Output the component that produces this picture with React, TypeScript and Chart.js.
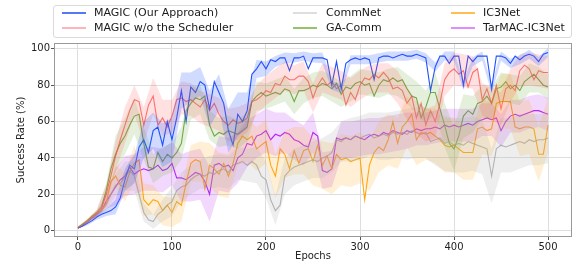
import { useEffect, useRef } from "react";
import { Chart, registerables } from "chart.js";

Chart.register(...registerables);

// Mean curves sampled every 5 epochs (0..500)
const EPOCH_STEP = 5;
// Std-band half-widths sampled every 10 epochs (0..500)
const BAND_STEP = 10;

const magic = [
  1.5, 2.5, 4, 5.5, 7.5, 9, 10, 11, 13, 18, 28, 36, 34, 46, 50, 43, 55, 57, 47, 60,
  50, 62, 77, 60, 79, 76, 82, 80, 67, 82, 76, 70, 55, 47, 64, 60, 66, 86, 89, 93,
  89, 94, 93, 95, 95, 88, 95, 95, 96, 89, 95, 95, 95, 94, 80, 93, 78, 92, 94, 95,
  94, 95, 94, 83, 95, 96, 96, 95, 96, 97, 96, 96, 97, 96, 95, 77, 90, 96, 96, 92,
  96, 96, 80, 96, 93, 96, 96, 96, 78, 96, 96, 95, 92, 96, 94, 96, 97, 96, 93, 97, 98,
];
const magicNoSched = [
  1.5, 3, 5, 7.5, 9.5, 12, 20, 30, 41, 50, 58, 66, 72, 71, 58, 69, 74, 58, 62, 57,
  63, 72, 73, 71, 72, 70, 68, 72, 66, 70, 64, 60, 58, 61, 59, 60, 62, 71, 72, 74,
  77, 76, 81, 80, 85, 83, 83, 85, 85, 82, 73, 80, 84, 80, 82, 78, 80, 69, 76, 72,
  80, 84, 83, 86, 84, 87, 84, 78, 79, 77, 70, 74, 62, 70, 58, 66, 60, 70, 83, 87,
  89, 86, 88, 79, 87, 89, 72, 78, 70, 80, 67, 78, 80, 77, 88, 91, 89, 83, 88, 87, 87,
];
const commNet = [
  1.5, 3, 5, 7, 9, 11, 14, 20, 25, 26, 30, 33, 30, 20, 10, 6, 5, 9, 11, 14,
  16, 22, 24, 25, 28, 30, 31, 30, 32, 31, 33, 34, 32, 36, 37, 38, 36, 38, 36, 30,
  28, 17, 11, 14, 30, 33, 35, 36, 37, 38, 39, 38, 40, 41, 43, 50, 49, 51, 50, 52,
  51, 52, 53, 51, 52, 53, 52, 54, 53, 54, 53, 55, 54, 53, 54, 49, 50, 51, 48, 49,
  47, 48, 47, 49, 48, 47, 46, 45, 30, 45, 47, 46, 47, 48, 49, 48, 50, 49, 50, 50, 51,
];
const gaComm = [
  1.5, 3.5, 5.5, 8, 10, 13, 22, 34, 42, 48, 52, 58, 63, 64, 48, 35, 34, 43, 38, 42,
  40, 43, 48, 66, 70, 73, 72, 74, 58, 52, 54, 53, 55, 54, 53, 55, 57, 71, 74, 76,
  74, 75, 76, 75, 78, 77, 71, 77, 77, 78, 80, 79, 81, 80, 78, 81, 75, 79, 78, 81,
  82, 80, 81, 74, 80, 83, 82, 84, 82, 83, 78, 74, 73, 62, 68, 76, 76, 67, 58, 48,
  45, 52, 63, 66, 64, 70, 71, 74, 70, 78, 79, 82, 78, 80, 77, 82, 84, 86, 83, 80, 79,
];
const ic3Net = [
  2, 3.5, 5.5, 7.5, 9.5, 11, 15, 27, 30, 25, 24, 32, 37, 39, 17, 14, 17, 16, 11, 14,
  10, 16, 14, 26, 37, 39, 38, 23, 36, 34, 31, 37, 30, 37, 48, 52, 50, 52, 45, 47,
  49, 36, 30, 45, 42, 34, 44, 37, 44, 45, 38, 47, 36, 41, 34, 42, 39, 40, 38, 39,
  40, 17, 36, 43, 46, 44, 50, 60, 48, 57, 60, 64, 50, 54, 53, 54, 52, 50, 47, 46,
  47, 45, 43, 43, 43, 56, 57, 55, 56, 70, 71, 71, 71, 57, 56, 57, 57, 56, 42, 42, 58,
];
const tarmac = [
  1.5, 3, 5, 7, 9, 11, 16, 20, 24, 28, 30, 35, 31, 33, 34, 33, 34, 36, 33, 34,
  37, 29, 29, 28, 30, 32, 31, 27, 20, 36, 37, 35, 36, 33, 40, 42, 48, 47, 52, 53,
  55, 50, 53, 52, 54, 53, 50, 49, 47, 46, 54, 52, 33, 32, 34, 51, 50, 51, 50, 52,
  51, 50, 52, 53, 52, 54, 53, 55, 54, 53, 55, 54, 56, 55, 56, 56, 57, 56, 58, 57,
  58, 57, 58, 59, 58, 60, 61, 62, 61, 62, 55, 60, 63, 64, 63, 64, 65, 66, 66, 65, 64,
];

const magicSpread = [
  0.5, 1, 1.5, 2, 4, 6, 8, 10, 10, 12, 12, 10, 8, 8, 10, 10, 12, 12, 10, 5,
  4, 3, 3, 2.5, 2.5, 2.5, 3, 2.5, 2.5, 2.5, 2.5, 2.5, 2.5, 2.5, 2.5, 2.5, 2.5, 2.5, 2.5, 2.5,
  2.5, 2.5, 2.5, 2.5, 2.5, 2.5, 2.5, 2.5, 2.5, 2.5, 2.5,
];
const magicNoSchedSpread = [
  0.5, 1, 2, 5, 8, 10, 8, 10, 10, 10, 9, 9, 9, 9, 9, 9, 9, 9, 8, 8,
  8, 8, 8, 8, 8, 8, 8, 8, 8, 8, 8, 8, 8, 8, 9, 9, 9, 9, 9, 9,
  9, 9, 9, 9, 9, 9, 9, 9, 9, 9, 9,
];
const commNetSpread = [
  0.5, 1, 1.5, 3, 6, 8, 8, 5, 4, 6, 8, 8, 8, 8, 9, 9, 9, 9, 9, 10,
  10, 8, 10, 10, 10, 10, 11, 11, 11, 12, 12, 12, 13, 13, 13, 14, 14, 14, 14, 15,
  15, 15, 15, 15, 15, 15, 15, 15, 14, 14, 14,
];
const gaCommSpread = [
  0.5, 1, 1.5, 4, 10, 10, 10, 9, 8, 8, 8, 9, 9, 8, 8, 8, 8, 8, 8, 8,
  7, 7, 7, 7, 7, 7, 7, 7, 7, 7, 7, 7, 7, 7, 8, 8, 9, 9, 11, 12,
  12, 12, 10, 9, 9, 8, 8, 8, 8, 7, 7,
];
const ic3NetSpread = [
  0.5, 1, 1.5, 3, 6, 8, 10, 9, 8, 8, 8, 9, 10, 11, 12, 12, 12, 12, 12, 12,
  12, 12, 13, 13, 13, 13, 13, 14, 14, 14, 14, 14, 14, 14, 14, 14, 14, 14, 15, 15,
  15, 15, 15, 15, 15, 15, 15, 15, 15, 15, 15,
];
const tarmacSpread = [
  0.5, 1, 1.5, 4, 10, 11, 11, 12, 12, 12, 12, 13, 14, 14, 15, 15, 15, 14, 13, 12,
  12, 12, 11, 11, 11, 11, 10, 10, 10, 10, 10, 10, 10, 10, 10, 10, 9, 9, 9, 9,
  9, 9, 9, 9, 9, 9, 9, 9, 9, 9, 9,
];

const labels = [
  "MAGIC (Our Approach)",
  "MAGIC w/o the Scheduler",
  "CommNet",
  "GA-Comm",
  "IC3Net",
  "TarMAC-IC3Net",
];
const xTicks = [0, 100, 200, 300, 400, 500];
const yTicks = [0, 20, 40, 60, 80, 100];

const series = [
  { label: labels[0], mean: magic, spread: magicSpread, line: "rgba(20,70,255,0.95)", fill: "rgba(40,90,255,0.22)", legend: "rgb(85,120,245)" },
  { label: labels[1], mean: magicNoSched, spread: magicNoSchedSpread, line: "rgba(255,70,70,0.75)", fill: "rgba(255,90,90,0.18)", legend: "rgb(255,180,188)" },
  { label: labels[2], mean: commNet, spread: commNetSpread, line: "rgba(150,150,150,0.7)", fill: "rgba(170,170,170,0.2)", legend: "rgb(222,222,222)" },
  { label: labels[3], mean: gaComm, spread: gaCommSpread, line: "rgba(90,150,40,0.85)", fill: "rgba(110,170,60,0.18)", legend: "rgb(150,195,105)" },
  { label: labels[4], mean: ic3Net, spread: ic3NetSpread, line: "rgba(255,160,0,0.95)", fill: "rgba(255,175,40,0.2)", legend: "rgb(255,190,80)" },
  { label: labels[5], mean: tarmac, spread: tarmacSpread, line: "rgba(175,20,245,0.95)", fill: "rgba(185,60,240,0.2)", legend: "rgb(222,140,255)" },
];

const FONT = "'DejaVu Sans', sans-serif";

const framePlugin = {
  id: "frame",
  afterDatasetsDraw(chart: any) {
    const { ctx, chartArea } = chart;
    ctx.save();
    ctx.strokeStyle = "#999999";
    ctx.lineWidth = 1;
    ctx.strokeRect(
      Math.round(chartArea.left) + 0.5,
      Math.round(chartArea.top) + 0.5,
      Math.round(chartArea.right - chartArea.left) - 1,
      Math.round(chartArea.bottom - chartArea.top) - 1
    );
    ctx.restore();
  },
};

export default function App() {
  const ref = useRef<HTMLCanvasElement | null>(null);

  useEffect(() => {
    if (!ref.current) return;
    const datasets: any[] = [];
    series.forEach((s) => {
      const lower = s.spread.map((d, i) => ({ x: i * BAND_STEP, y: s.mean[i * (BAND_STEP / EPOCH_STEP)] - d }));
      const upper = s.spread.map((d, i) => ({ x: i * BAND_STEP, y: s.mean[i * (BAND_STEP / EPOCH_STEP)] + d }));
      datasets.push({ data: lower, borderWidth: 0, pointRadius: 0, fill: false, borderColor: "transparent" });
      datasets.push({ data: upper, borderWidth: 0, pointRadius: 0, fill: "-1", backgroundColor: s.fill, borderColor: "transparent" });
    });
    series.forEach((s) => {
      datasets.push({
        label: s.label,
        data: s.mean.map((y, i) => ({ x: i * EPOCH_STEP, y })),
        borderColor: s.line,
        borderWidth: 1.1,
        pointRadius: 0,
        fill: false,
        tension: 0,
      });
    });

    const tickFont = { family: FONT, size: 10 };
    const chart = new Chart(ref.current, {
      type: "line",
      data: { datasets },
      plugins: [framePlugin],
      options: {
        animation: false,
        responsive: false,
        events: [],
        layout: { padding: { top: 43, right: 1, left: 0, bottom: 0 } },
        plugins: { legend: { display: false }, tooltip: { enabled: false } },
        scales: {
          x: {
            type: "linear",
            min: -25.5,
            max: 525.5,
            afterBuildTicks: (scale: any) => {
              scale.ticks = xTicks.map((v) => ({ value: v }));
            },
            afterFit: (scale: any) => {
              scale.height = 27;
            },
            grid: { color: "#dedede", tickColor: "#555", tickLength: 3, lineWidth: 1 },
            border: { display: false },
            ticks: { font: tickFont, color: "#222", padding: 1, maxRotation: 0 },
            title: { display: true, text: "Epochs", font: tickFont, color: "#222", padding: { top: 0, bottom: 2 } },
          },
          y: {
            type: "linear",
            min: -3.5,
            max: 103.2,
            afterBuildTicks: (scale: any) => {
              scale.ticks = yTicks.map((v) => ({ value: v }));
            },
            afterFit: (scale: any) => {
              scale.width = 54;
            },
            grid: { color: "#dedede", tickColor: "#555", tickLength: 3, lineWidth: 1 },
            border: { display: false },
            ticks: { font: tickFont, color: "#222", padding: 1 },
            title: { display: true, text: "Success Rate (%)", font: tickFont, color: "#222", padding: { top: 15, bottom: 0 } },
          },
        },
      },
    });
    return () => chart.destroy();
  }, []);

  const cols = [
    { lineX: 62, textX: 94 },
    { lineX: 293, textX: 326 },
    { lineX: 451, textX: 483 },
  ];
  const rowsY = [13, 28];

  return (
    <div style={{ position: "absolute", left: 0, top: 0, width: 573, height: 264, background: "#fff" }}>
      <canvas ref={ref} width={573} height={264} style={{ position: "absolute", left: 0, top: 0, width: 573, height: 264 }} />
      <div
        style={{
          position: "absolute",
          left: 53,
          top: 5,
          width: 519,
          height: 33,
          border: "1px solid #dadada",
          borderRadius: 3,
          background: "rgba(255,255,255,0.85)",
          boxSizing: "border-box",
        }}
      />
      {series.map((s, i) => {
        const col = cols[Math.floor(i / 2)];
        const y = rowsY[i % 2];
        return (
          <div key={s.label}>
            <div style={{ position: "absolute", left: col.lineX, top: y - 1, width: 24, height: 2, background: s.legend }} />
            <div
              style={{
                position: "absolute",
                left: col.textX,
                top: y - 8,
                height: 16,
                lineHeight: "16px",
                fontFamily: FONT,
                fontSize: 11,
                color: "#1a1a1a",
                whiteSpace: "nowrap",
              }}
            >
              {s.label}
            </div>
          </div>
        );
      })}
    </div>
  );
}
